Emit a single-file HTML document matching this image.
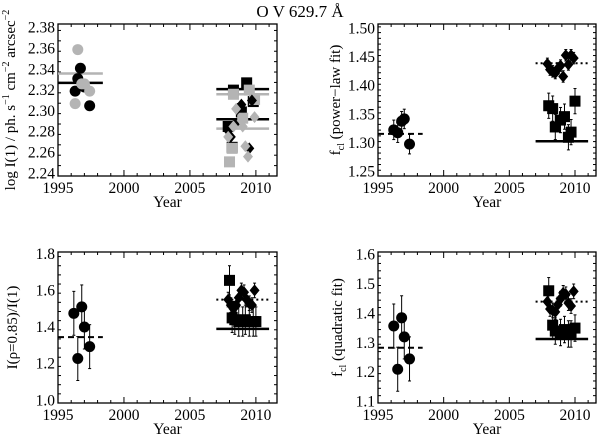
<!DOCTYPE html>
<html><head><meta charset="utf-8"><style>
body{margin:0;background:#fff;}
svg{display:block;font-family:"Liberation Serif",serif;}
</style></head><body>
<svg id="c" width="600" height="443">
<text x="300" y="17" font-size="17" text-anchor="middle">O V 629.7 Å</text>
</svg>
<script>
// ---- data ----
const p1BlackCircX=[1996.3,1996.5,1996.7,1997.0,1997.4];
const p1BlackCircY=[2.319,2.331,2.341,2.323,2.305];
const p1GrayCircX=[1996.3,1996.5,1996.8,1997.0,1997.4];
const p1GrayCircY=[2.307,2.359,2.326,2.326,2.319];
const p1BlackSqX=[2007.9,2008.2,2008.3,2008.9,2009.3,2009.8];
const p1BlackSqY=[2.285,2.265,2.320,2.299,2.327,2.309];
const p1GraySqX=[2008.0,2008.2,2008.3,2009.0,2009.5,2009.9];
const p1GraySqY=[2.251,2.264,2.316,2.293,2.320,2.311];
const p1BlackDiaX=[2007.9,2008.1,2008.4,2008.6,2008.9,2009.5,2009.7];
const p1BlackDiaY=[2.281,2.275,2.287,2.302,2.306,2.264,2.310];
const p1GrayDiaX=[2007.9,2008.3,2008.5,2009.0,2009.2,2009.4,2009.9];
const p1GrayDiaY=[2.275,2.285,2.302,2.285,2.266,2.256,2.294];
const p1Means=[2.327,2.336,2.321,2.292,2.316,2.283];

const circX=[1996.2,1996.5,1996.8,1997.0,1997.4];
const p2CircY=[1.323,1.318,1.338,1.342,1.298];
const p2SqX=[2008.0,2008.3,2008.5,2008.9,2009.2,2009.5,2009.7,2010.0];
const p2SqY=[1.365,1.360,1.328,1.340,1.346,1.310,1.319,1.373];
const diaX=[2007.9,2008.1,2008.3,2008.5,2008.7,2008.9,2009.1,2009.3,2009.5,2009.7,2009.9];
const p2DiaY=[1.438,1.428,1.425,1.422,1.430,1.435,1.416,1.453,1.437,1.453,1.448];
const p2Means=[1.316,1.303,1.439];

const p3CircY=[1.475,1.228,1.51,1.40,1.293];
const p3SqX=[2008.0,2008.2,2008.4,2008.7,2009.0,2009.2,2009.5,2009.8,2010.0];
const p3SqY=[1.655,1.45,1.44,1.43,1.43,1.44,1.43,1.43,1.43];
const p3DiaY=[1.55,1.52,1.50,1.52,1.56,1.60,1.59,1.55,1.53,1.52,1.60];
const p3Means=[1.345,1.39,1.55];

const p4CircY=[1.357,1.21,1.385,1.32,1.245];
const p4SqY=[1.477,1.36,1.34,1.335,1.345,1.33,1.33,1.35];
const p4DiaY=[1.44,1.415,1.41,1.405,1.43,1.45,1.47,1.465,1.435,1.425,1.475];
const p4Means=[1.283,1.313,1.44];

const xTicks=[1995,2000,2005,2010];
const p1Ticks=[2.24,2.26,2.28,2.30,2.32,2.34,2.36,2.38];
const p2Ticks=[1.25,1.30,1.35,1.40,1.45,1.50];
const p3Ticks=[1.0,1.2,1.4,1.6,1.8];
const p4Ticks=[1.1,1.2,1.3,1.4,1.5,1.6];

const NS="http://www.w3.org/2000/svg";
const svg=document.getElementById('c');
function mk(t,a,p){const e=document.createElementNS(NS,t);for(const k in a)e.setAttribute(k,a[k]);(p||svg).appendChild(e);return e;}

function panel(name,L,T,R,B,ymin,ymax,yt,ydec,yminor,ylab,ylx){
  const g=mk('g',{});
  
  
  const sx=v=>L+(v-1995)/(2011.6-1995)*(R-L);
  const sy=v=>B-(v-ymin)/(ymax-ymin)*(B-T);
  mk('rect',{x:L,y:T,width:R-L,height:B-T,fill:'none',stroke:'#000','stroke-width':1.3},g);
  for(let y=1995;y<=2011;y++){const big=y%5==0;const len=big?6:3;
    mk('line',{x1:sx(y),x2:sx(y),y1:B,y2:B-len,stroke:'#000'},g);
    mk('line',{x1:sx(y),x2:sx(y),y1:T,y2:T+len,stroke:'#000'},g);}
  xTicks.forEach(v=>{const t=mk('text',{x:sx(v),y:B+17,'font-size':15.5,'text-anchor':'middle'},g);t.textContent=v;
    });
  for(let v=ymin;v<=ymax+1e-9;v+=yminor){const yy=sy(v);
    const big=yt.some(t=>Math.abs(t-v)<1e-6);const len=big?6:3;
    mk('line',{x1:L,x2:L+len,y1:yy,y2:yy,stroke:'#000'},g);
    mk('line',{x1:R,x2:R-len,y1:yy,y2:yy,stroke:'#000'},g);}
  yt.forEach(v=>{const t=mk('text',{x:L-3,y:sy(v)+5,'font-size':15.5,'text-anchor':'end'},g);t.textContent=v.toFixed(ydec);
    });
  const xt=mk('text',{x:(L+R)/2,y:B+31,'font-size':15.5,'text-anchor':'middle'},g);xt.textContent='Year';
  
  const yl=mk('text',{x:ylx,y:(T+B)/2,'font-size':15,'text-anchor':'middle',transform:`rotate(-90 ${ylx} ${(T+B)/2})`},g);
  yl.innerHTML=ylab;
  
  return {g,sx,sy};
}
function hline(P,y,x0,x1,col,dash,w){const l=mk('line',{x1:P.sx(x0),x2:P.sx(x1),y1:P.sy(y),y2:P.sy(y),stroke:col,'stroke-width':w||2.5,'stroke-dasharray':dash||'none'},P.g);
  }
function pts(P,xs,ys,shape,col,err,nm){
  xs.forEach((x,i)=>{const cx=P.sx(x),cy=P.sy(ys[i]);
    if(err){const e=mk('line',{x1:cx,x2:cx,y1:P.sy(ys[i]-err),y2:P.sy(ys[i]+err),stroke:col,'stroke-width':1},P.g);
      
      [ys[i]-err,ys[i]+err].forEach(v=>mk('line',{x1:cx-1.5,x2:cx+1.5,y1:P.sy(v),y2:P.sy(v),stroke:col},P.g));}
    let m;
    if(shape=='c')m=mk('circle',{cx,cy,r:5.5,fill:col},P.g);
    else if(shape=='s')m=mk('rect',{x:cx-5.5,y:cy-5.5,width:11,height:11,fill:col},P.g);
    else m=mk('polygon',{points:`${cx},${cy-6} ${cx+5},${cy} ${cx},${cy+6} ${cx-5},${cy}`,fill:col},P.g);
    });
}
const GR='#b4b4b4';
// panel 1
const P1=panel('panel-intensity',58,24,277,176,2.2374,2.3836,p1Ticks,2,0.01,
 'log I(1) / ph. s<tspan dy="-6" font-size="10">−1</tspan><tspan dy="6"> cm</tspan><tspan dy="-6" font-size="10">−2</tspan><tspan dy="6"> arcsec</tspan><tspan dy="-6" font-size="10">−2</tspan>',15);
hline(P1,p1Means[1],1995,1998.4,GR);hline(P1,p1Means[0],1995,1998.4,'#000');
hline(P1,p1Means[4],2007,2011,GR);hline(P1,p1Means[5],2007,2011,GR);
hline(P1,p1Means[2],2007,2011,'#000');hline(P1,p1Means[3],2007,2011,'#000');
pts(P1,p1BlackCircX,p1BlackCircY,'c','#000',0,'black-circle');
pts(P1,p1GrayCircX,p1GrayCircY,'c',GR,0,'gray-circle');
pts(P1,p1BlackSqX,p1BlackSqY,'s','#000',0,'black-square');
pts(P1,p1GraySqX,p1GraySqY,'s',GR,0,'gray-square');
pts(P1,p1BlackDiaX,p1BlackDiaY,'d','#000',0,'black-diamond');
pts(P1,p1GrayDiaX,p1GrayDiaY,'d',GR,0,'gray-diamond');
// panel 2
const P2=panel('panel-powerlaw',378,24,596,176,1.2425,1.5075,p2Ticks,2,0.01,
 'f<tspan dy="4" font-size="10">cl</tspan><tspan dy="-4"> (power−law fit)</tspan>',340);
hline(P2,p2Means[0],1995,1998.4,'#000','6,4',2);hline(P2,p2Means[1],2007,2011,'#000');
hline(P2,p2Means[2],2007,2011,'#000','2,3',2);
pts(P2,circX,p2CircY,'c','#000',0.017,'circle');
pts(P2,p2SqX,p2SqY,'s','#000',0.022,'square');
pts(P2,diaX,p2DiaY,'d','#000',0.01,'diamond');
// panel 3
const P3=panel('panel-ratio',58,252,277,403,0.985,1.81,p3Ticks,1,0.05,'I(ρ=0.85)/I(1)',17);
hline(P3,p3Means[0],1995,1998.4,'#000','6,4',2);hline(P3,p3Means[1],2007,2011,'#000');
hline(P3,p3Means[2],2007,2011,'#000','2,3',2);
pts(P3,circX,p3CircY,'c','#000',0.12,'circle');
pts(P3,p3SqX,p3SqY,'s','#000',0.08,'square');
pts(P3,diaX,p3DiaY,'d','#000',0.04,'diamond');
// panel 4
const P4=panel('panel-quadratic',378,252,596,403,1.095,1.609,p4Ticks,1,0.025,
 'f<tspan dy="4" font-size="10">cl</tspan><tspan dy="-4"> (quadratic fit)</tspan>',342);
hline(P4,p4Means[0],1995,1998.4,'#000','6,4',2);hline(P4,p4Means[1],2007,2011,'#000');
hline(P4,p4Means[2],2007,2011,'#000','2,3',2);
pts(P4,circX,p4CircY,'c','#000',0.075,'circle');
pts(P4,p2SqX,p4SqY,'s','#000',0.045,'square');
pts(P4,diaX,p4DiaY,'d','#000',0.025,'diamond');
</script>
</body></html>
